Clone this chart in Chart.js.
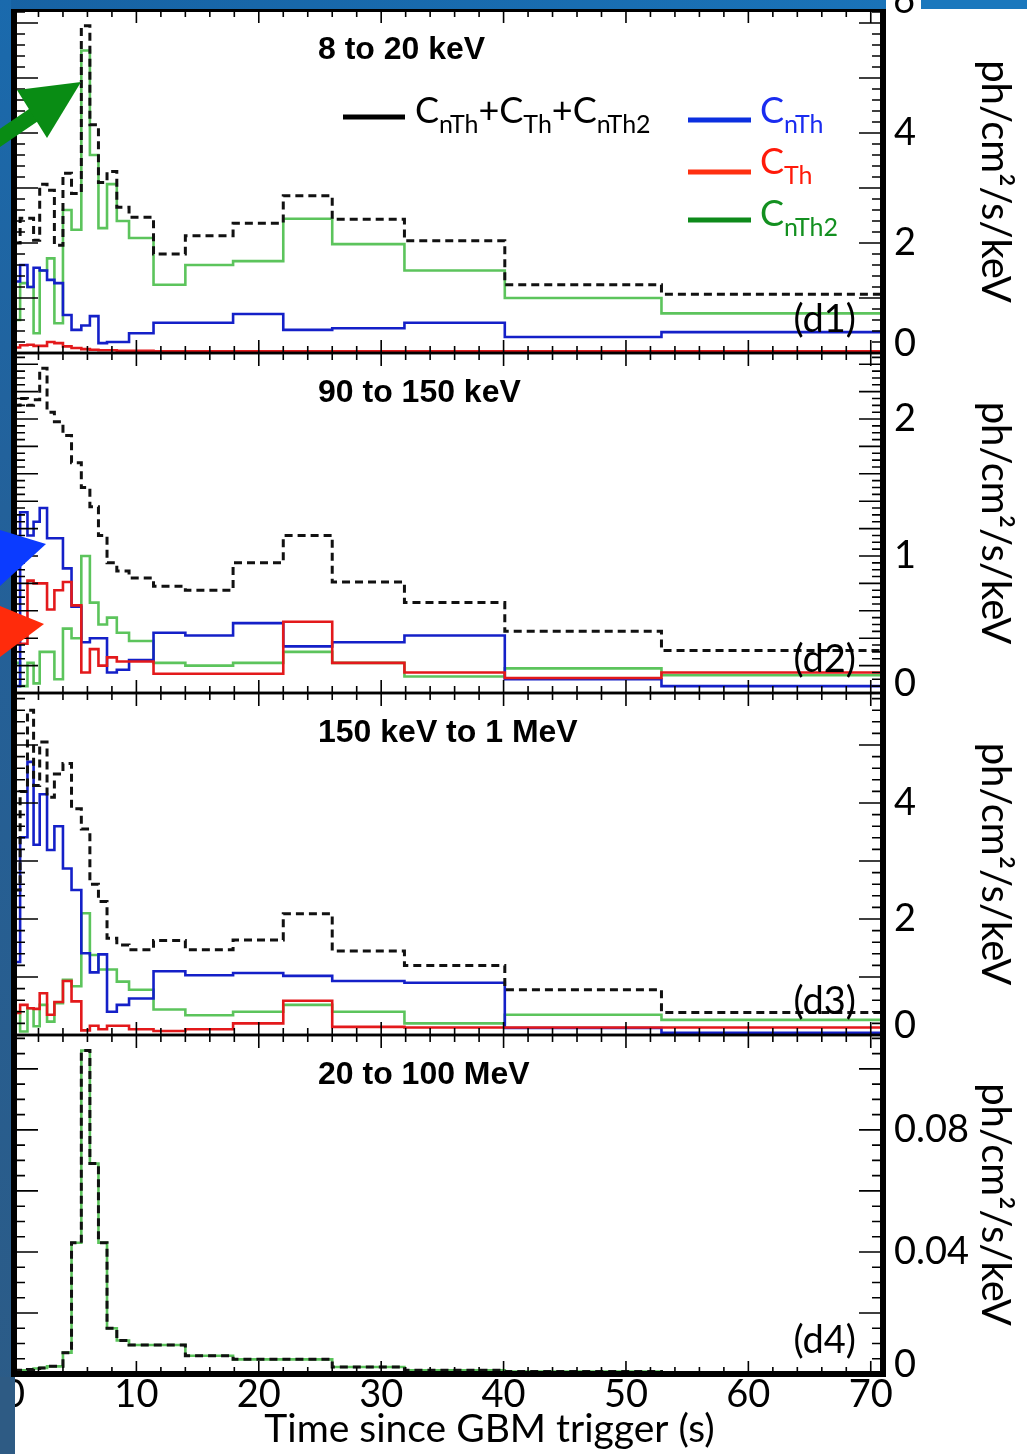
<!DOCTYPE html>
<html lang="en">
<head>
<meta charset="UTF-8">
<title>GBM light curves by energy band</title>
<script src="https://cdn.jsdelivr.net/npm/chart.js"></script>
<style>
  body { margin: 0; background: #fff; }
  #page { position: relative; width: 1027px; height: 1454px; overflow: hidden; background: #fff; }
  #page canvas { position: absolute; left: 0; }
  .slide { position: absolute; }
  #arrows { position: absolute; left: 0; top: 0; }
</style>
</head>
<body>
<div id="page">
  <canvas id="d1" width="1027" height="362" style="top:0px"></canvas>
  <canvas id="d2" width="1027" height="358" style="top:345px"></canvas>
  <canvas id="d3" width="1027" height="360" style="top:685px"></canvas>
  <canvas id="d4" width="1027" height="427" style="top:1027px"></canvas>

  <!-- bits of the slide background around the figure -->
  <div class="slide" style="left:0;top:0;width:886px;height:9px;background:linear-gradient(90deg,#1762a3,#1a73b8)"></div>
  <div class="slide" style="left:921px;top:0;width:106px;height:9px;background:#1b78bd"></div>
  <div class="slide" style="left:0;top:0;width:11px;height:1454px;background:linear-gradient(180deg,#1a6aad 0%,#23619a 35%,#2c5b86 100%)"></div>
  <div class="slide" style="left:0;top:1377px;width:15px;height:77px;background:#2e5b84"></div>

  <svg id="arrows" width="1027" height="1454">
    <line x1="-6" y1="142" x2="38" y2="112" stroke="#098c14" stroke-width="15"/>
    <polygon points="81,82 17,90 47,138" fill="#098c14"/>
    <polygon points="0,530 46,544 0,586" fill="#0b3bff"/>
    <polygon points="0,606 44,624 0,657" fill="#ff2b0b"/>
  </svg>
</div>

<script>
// bin edges (s) shared by all panels
const edges = [0, 0.5, 1.1, 1.6, 2.1, 2.7, 3.3, 4.0, 4.7, 5.5, 6.2, 6.9, 7.6, 8.4, 9.4, 11.4, 14.0, 17.9, 22.0, 26.0, 31.9, 40.1, 52.9, 71];

// (d1) 8 to 20 keV
const d1Sum  = [2.0, 2.45, 2.45, 2.05, 3.07, 2.96, 1.96, 3.27, 2.9, 5.95, 4.15, 3.1, 3.3, 2.65, 2.47, 1.8, 2.13, 2.36, 2.86, 2.43, 2.04, 1.24, 1.07];
const d1NTh  = [1.3, 1.6, 1.2, 1.55, 1.5, 1.33, 1.27, 0.69, 0.42, 0.5, 0.67, 0.18, 0.2, 0.2, 0.36, 0.55, 0.55, 0.71, 0.42, 0.45, 0.55, 0.29, 0.38];
const d1Th   = [0.1, 0.14, 0.15, 0.13, 0.13, 0.2, 0.18, 0.12, 0.09, 0.07, 0.06, 0.05, 0.05, 0.04, 0.04, 0.03, 0.03, 0.03, 0.03, 0.03, 0.03, 0.03, 0.03];
const d1NTh2 = [0.6, 1.27, 1.2, 0.36, 1.5, 1.72, 0.54, 2.6, 2.24, 5.5, 3.6, 2.27, 3.07, 2.4, 2.09, 1.24, 1.6, 1.67, 2.44, 1.98, 1.5, 1.0, 0.72];

// (d2) 90 to 150 keV
const d2Sum  = [2.1, 2.15, 2.1, 2.14, 2.37, 2.05, 1.98, 1.88, 1.68, 1.5, 1.36, 1.15, 0.95, 0.89, 0.84, 0.78, 0.75, 0.95, 1.15, 0.81, 0.66, 0.45, 0.31];
const d2NTh  = [0.05, 1.32, 1.15, 1.25, 1.35, 1.13, 1.13, 0.91, 0.63, 0.37, 0.4, 0.4, 0.15, 0.17, 0.24, 0.44, 0.42, 0.51, 0.34, 0.37, 0.42, 0.1, 0.05];
const d2Th   = [0.36, 0.36, 0.82, 0.8, 0.8, 0.61, 0.75, 0.81, 0.64, 0.15, 0.32, 0.2, 0.26, 0.23, 0.23, 0.14, 0.14, 0.14, 0.52, 0.22, 0.15, 0.11, 0.15];
const d2NTh2 = [0.22, 0.05, 0.22, 0.07, 0.3, 0.3, 0.1, 0.47, 0.4, 1.0, 0.66, 0.5, 0.55, 0.44, 0.38, 0.22, 0.2, 0.22, 0.3, 0.22, 0.12, 0.18, 0.13];

// (d3) 150 keV to 1 MeV
const d3Sum  = [2.5, 4.2, 5.6, 4.3, 5.05, 4.1, 4.5, 4.68, 3.9, 3.55, 2.6, 2.3, 1.67, 1.55, 1.47, 1.63, 1.47, 1.64, 2.09, 1.45, 1.2, 0.78, 0.39];
const d3NTh  = [1.26, 3.41, 4.71, 3.28, 4.15, 3.19, 3.6, 2.87, 2.5, 1.41, 1.08, 1.39, 0.4, 0.52, 0.63, 1.1, 1.03, 1.07, 1.02, 0.93, 0.9, 0.12, 0.04];
const d3Th   = [0.38, 0.52, 0.46, 0.45, 0.72, 0.35, 0.57, 0.93, 0.58, 0.08, 0.16, 0.1, 0.16, 0.16, 0.1, 0.07, 0.1, 0.2, 0.59, 0.14, 0.13, 0.13, 0.13];
const d3NTh2 = [0.4, 0.06, 0.46, 0.15, 0.52, 0.23, 0.55, 0.95, 0.84, 2.1, 1.38, 1.13, 1.13, 0.92, 0.78, 0.44, 0.34, 0.4, 0.52, 0.4, 0.2, 0.35, 0.26];

// (d4) 20 to 100 MeV
const d4Sum  = [0.0012, 0.0012, 0.0015, 0.0018, 0.002, 0.0025, 0.0025, 0.007, 0.043, 0.106, 0.069, 0.043, 0.015, 0.011, 0.0095, 0.0095, 0.006, 0.0048, 0.0048, 0.0023, 0.0012, 0.0008, 0.0005];
const d4NTh2 = [0.0012, 0.0012, 0.0015, 0.0018, 0.002, 0.0025, 0.0025, 0.007, 0.043, 0.106, 0.069, 0.043, 0.015, 0.011, 0.0095, 0.0095, 0.006, 0.0048, 0.0048, 0.0023, 0.0012, 0.0008, 0.0005];

const xTicks = [0, 10, 20, 30, 40, 50, 60, 70];
const d1Ticks = [0, 2, 4];
const d2Ticks = [0, 1, 2];
const d3Ticks = [0, 2, 4];
const d4Ticks = [0, 0.04, 0.08];

const bandTitles = ['8 to 20 keV', '90 to 150 keV', '150 keV to 1 MeV', '20 to 100 MeV'];
const panelTags = ['(d1)', '(d2)', '(d3)', '(d4)'];
const yTitle = 'ph/cm\u00b2/s/keV';
const xTitle = 'Time since GBM trigger (s)';

// legend text pieces: [text, subscript?]
const legendSum  = [['C', 0], ['nTh', 1], ['+C', 0], ['Th', 1], ['+C', 0], ['nTh2', 1]];
const legendNTh  = [['C', 0], ['nTh', 1]];
const legendTh   = [['C', 0], ['Th', 1]];
const legendNTh2 = [['C', 0], ['nTh2', 1]];

const BLUE = '#1420c8', RED = '#e3191b', GREEN = '#5cc45c';

Chart.defaults.font.family = 'Lato';
Chart.defaults.color = '#000';

function histPoints(vals) {
  return edges.map((e, i) => ({ x: e, y: vals[Math.min(i, vals.length - 1)] }));
}

function drawParts(ctx, parts, x, y, color) {
  ctx.fillStyle = color;
  ctx.textBaseline = 'alphabetic';
  ctx.textAlign = 'left';
  for (const [txt, sub] of parts) {
    ctx.font = sub ? '25px Lato' : '36px Lato';
    ctx.fillText(txt, x, sub ? y + 10 : y);
    x += ctx.measureText(txt).width;
  }
}

// ROOT-style frame with inward ticks on all four sides
const rootFrame = {
  id: 'rootFrame',
  afterDatasetsDraw(chart, args, o) {
    const { ctx, chartArea: a, scales: { x, y } } = chart;
    ctx.save();
    ctx.strokeStyle = '#000';
    ctx.lineWidth = 1.6;
    ctx.beginPath();
    const nx = Math.round(x.max / 2);
    for (let i = 0; i <= nx; i++) {
      const t = i * 2;
      const px = x.getPixelForValue(t);
      if (px > a.right - 2) continue;
      const len = t % 10 === 0 ? 13 : 7;
      ctx.moveTo(px, a.top); ctx.lineTo(px, a.top + len);
      ctx.moveTo(px, a.bottom); ctx.lineTo(px, a.bottom - len);
    }
    const ny = Math.floor(y.max / o.yMinor + 1e-6);
    const per = Math.round(o.yMajor / o.yMinor);
    for (let i = 1; i <= ny; i++) {
      const py = y.getPixelForValue(i * o.yMinor);
      const len = i % per === 0 ? 24 : 11;
      ctx.moveTo(a.left, py); ctx.lineTo(a.left + len, py);
      ctx.moveTo(a.right, py); ctx.lineTo(a.right - len, py);
    }
    ctx.stroke();

    ctx.lineWidth = 6;
    ctx.beginPath();
    ctx.moveTo(a.left, a.top - 2); ctx.lineTo(a.left, a.bottom + 3);
    ctx.moveTo(a.right, a.top - 2); ctx.lineTo(a.right, a.bottom + 3);
    ctx.stroke();
    ctx.lineWidth = o.topWidth;
    ctx.beginPath(); ctx.moveTo(a.left, a.top); ctx.lineTo(a.right, a.top); ctx.stroke();
    ctx.lineWidth = o.bottomWidth;
    ctx.beginPath(); ctx.moveTo(a.left, a.bottom); ctx.lineTo(a.right, a.bottom); ctx.stroke();

    // band title and panel tag
    ctx.fillStyle = '#000';
    ctx.textBaseline = 'alphabetic';
    ctx.textAlign = 'left';
    ctx.font = 'bold 32px "Liberation Sans"';
    ctx.fillText(o.title, 318, a.top + 49);
    ctx.textAlign = 'right';
    ctx.font = '38px Lato';
    ctx.fillText(o.tag, a.right - 27, a.bottom - 21);

    if (o.legend) {
      ctx.lineWidth = 5;
      const rows = [
        [legendSum, '#000', 343, 405, 117, 415, 123, '#000'],
        [legendNTh, '#0b2fe0', 688, 751, 120, 760, 123, '#1a2cf0'],
        [legendTh, '#ff3010', 688, 751, 172, 760, 174, '#ff1a0a'],
        [legendNTh2, '#0d8a1a', 688, 751, 220, 760, 226, '#139020']
      ];
      for (const [parts, lc, x1, x2, ly, tx, ty, tc] of rows) {
        ctx.strokeStyle = lc;
        ctx.beginPath(); ctx.moveTo(x1, ly); ctx.lineTo(x2, ly); ctx.stroke();
        drawParts(ctx, parts, tx, ty, tc);
      }
      // top label of the axis, cut by the slide edge
      ctx.fillStyle = '#000';
      ctx.textAlign = 'left';
      ctx.font = '38px Lato';
      ctx.fillText('6', 893, 13);
    }
    if (o.xTitle) {
      ctx.fillStyle = '#000';
      ctx.textAlign = 'center';
      ctx.font = '39px Lato';
      ctx.fillText(o.xTitle, (a.left + a.right) / 2 + 41, a.bottom + 68);
    }
    ctx.restore();
  }
};

function makePanel(id, p) {
  const ds = [
    { data: histPoints(p.sum), borderColor: '#111', borderWidth: 3, borderDash: [8, 5] }
  ];
  if (p.th) ds.push({ data: histPoints(p.th), borderColor: RED, borderWidth: 2.6 });
  if (p.nTh) ds.push({ data: histPoints(p.nTh), borderColor: BLUE, borderWidth: 2.6 });
  ds.push({ data: histPoints(p.nTh2), borderColor: GREEN, borderWidth: 2.6 });
  ds.forEach(d => { d.stepped = 'before'; d.pointRadius = 0; d.fill = false; });

  return new Chart(document.getElementById(id), {
    type: 'line',
    data: { datasets: ds },
    options: {
      responsive: false,
      animation: false,
      devicePixelRatio: 1,
      layout: { padding: { left: 14, right: 0, top: p.padTop, bottom: p.padBottom } },
      plugins: {
        legend: { display: false },
        tooltip: { enabled: false },
        rootFrame: p.frame
      },
      scales: {
        x: {
          type: 'linear', min: 0, max: 71,
          display: p.showX,
          grid: { display: false, drawTicks: false },
          border: { display: false },
          afterBuildTicks: s => { s.ticks = xTicks.map(v => ({ value: v })); },
          afterFit: s => { s.height = p.showX ? 80 : 0; s.paddingLeft = 0; s.paddingRight = 0; },
          ticks: { font: { size: 38, lineHeight: 1 }, padding: 2, maxRotation: 0, autoSkip: false }
        },
        y: {
          type: 'linear', position: 'right', min: 0, max: p.yMax,
          grid: { display: false, drawTicks: false },
          border: { display: false },
          afterBuildTicks: s => { s.ticks = p.yTicks.map(v => ({ value: v })); },
          afterFit: s => { s.width = 144; s.paddingTop = 0; s.paddingBottom = 0; },
          ticks: {
            font: { size: 38, lineHeight: 0.47 }, padding: 11, autoSkip: false,
            callback: v => (v === 0 ? ['0', ''] : String(v))
          },
          title: { display: true, text: yTitle, font: { size: 40 }, padding: { top: 8, bottom: 0 } }
        }
      }
    },
    plugins: [rootFrame]
  });
}

makePanel('d1', {
  sum: d1Sum, nTh: d1NTh, th: d1Th, nTh2: d1NTh2, yMax: 6.236, yTicks: d1Ticks,
  padTop: 10, padBottom: 9, showX: false,
  frame: { yMinor: 0.2, yMajor: 1, topWidth: 4, bottomWidth: 2.5, title: bandTitles[0], tag: panelTags[0], legend: true }
});
makePanel('d2', {
  sum: d2Sum, nTh: d2NTh, th: d2Th, nTh2: d2NTh2, yMax: 2.482, yTicks: d2Ticks,
  padTop: 8, padBottom: 10, showX: false,
  frame: { yMinor: 0.05, yMajor: 0.2, topWidth: 2.5, bottomWidth: 2.5, title: bandTitles[1], tag: panelTags[1] }
});
makePanel('d3', {
  sum: d3Sum, nTh: d3NTh, th: d3Th, nTh2: d3NTh2, yMax: 5.897, yTicks: d3Ticks,
  padTop: 8, padBottom: 10, showX: false,
  frame: { yMinor: 0.2, yMajor: 1, topWidth: 2.5, bottomWidth: 2.5, title: bandTitles[2], tag: panelTags[2] }
});
makePanel('d4', {
  sum: d4Sum, nTh2: d4NTh2, yMax: 0.1111, yTicks: d4Ticks,
  padTop: 8, padBottom: 0, showX: true,
  frame: { yMinor: 0.005, yMajor: 0.02, topWidth: 2.5, bottomWidth: 6, title: bandTitles[3], tag: panelTags[3], xTitle: xTitle }
});
</script>
</body>
</html>
